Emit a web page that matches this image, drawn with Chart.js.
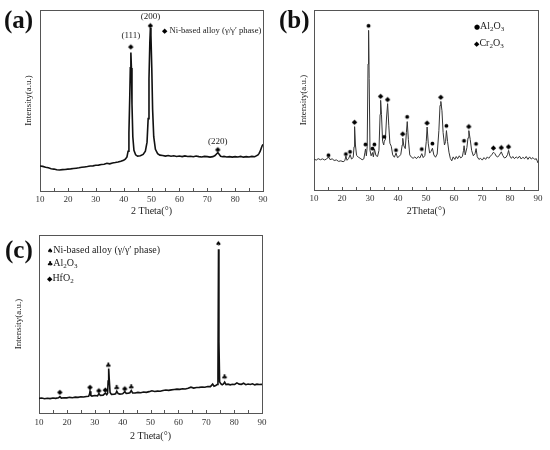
<!DOCTYPE html>
<html><head><meta charset="utf-8">
<script src="https://cdn.jsdelivr.net/npm/chart.js@4.4.1/dist/chart.umd.min.js"></script>
<style>
body{margin:0;background:#fff;width:550px;height:450px;position:relative;overflow:hidden;font-family:"Liberation Serif",serif;}
.panel{position:absolute;}
.panel canvas{display:block;}
.lbl{position:absolute;font-weight:bold;font-size:25px;line-height:28px;color:#111;font-family:"Liberation Serif",serif;}
.leg{position:absolute;font-size:9px;line-height:12px;color:#222;white-space:nowrap;font-family:"Liberation Serif",serif;}
.leg10{font-size:10px;}
.g{font-family:"DejaVu Sans",sans-serif;font-size:7px;color:#000;}
sub{font-size:7px;vertical-align:-2px;line-height:0;}
</style></head>
<body>
<div class="panel" style="left:0;top:0;width:275px;height:220px"><canvas id="ca" width="275" height="220"></canvas></div>
<div class="panel" style="left:275px;top:0;width:275px;height:220px"><canvas id="cb" width="275" height="220"></canvas></div>
<div class="panel" style="left:0;top:225px;width:275px;height:225px"><canvas id="cc" width="275" height="225"></canvas></div>

<div class="lbl" style="left:4px;top:6px">(a)</div>
<div class="lbl" style="left:279px;top:6px">(b)</div>
<div class="lbl" style="left:5px;top:236px">(c)</div>

<div class="leg" style="left:162px;top:24px;font-size:8.6px"><span class="g">◆</span> Ni-based alloy (γ/γ′ phase)</div>
<div class="leg leg10" style="left:474px;top:20px"><span class="g">●</span>Al<sub>2</sub>O<sub>3</sub></div>
<div class="leg leg10" style="left:474px;top:37px"><span class="g">◆</span>Cr<sub>2</sub>O<sub>3</sub></div>
<div class="leg leg10" style="left:47px;top:244px"><span class="g">♠</span>Ni-based alloy (γ/γ′ phase)</div>
<div class="leg leg10" style="left:47px;top:257px"><span class="g">♣</span>Al<sub>2</sub>O<sub>3</sub></div>
<div class="leg leg10" style="left:47px;top:272px"><span class="g">◆</span>HfO<sub>2</sub></div>

<script>
// ---------- data ----------
const xTicks = [10,20,30,40,50,60,70,80,90];
const xMinorTicks = [10,15,20,25,30,35,40,45,50,55,60,65,70,75,80,85,90];

// (a)
const aX = [10,11,12,13,14,15,16,17,18,19,20,21,22,23,24,25,26,27,28,29,30,31,32,33,34,35,36,37,38,39,40,40.6,41.2,41.6,41.9,42.2,42.4,42.6,42.8,43.0,43.3,43.7,44.3,45,46,47,47.8,48.4,48.8,49.1,49.4,49.6,49.8,50.1,50.4,50.8,51.4,52.2,53,54,55,56,57,58,59,60,61,62,63,64,65,66,67,68,69,70,71,72,72.8,73.4,73.8,74.2,74.8,75.5,76,77,78,79,80,81,82,83,84,85,86,87,87.6,88.2,88.6,89,89.4,89.7,90];
const aY = [13.8,13.6,13.1,12.8,12.3,12.1,11.7,11.6,11.8,11.9,12.1,12.2,12.4,12.6,12.8,13.1,13.3,13.5,13.8,13.9,14.2,14.3,14.6,14.8,15.3,15.0,15.5,15.7,16.0,16.4,17.0,17.6,18.8,22,32,52,68,76.5,68,48,30,22.5,20,19.3,19.5,20.2,22,27,40,62,82,90,86,68,45,30,23,20.6,19.8,19.6,19.3,19.6,19.2,19.5,19.1,19.3,19.0,19.4,19.1,19.2,18.9,19.3,19.0,18.8,19.1,19.0,18.7,19.0,19.6,20.6,21.2,20.4,19.2,18.9,19.1,18.8,19.0,18.7,19.0,18.8,19.1,18.7,19.0,18.8,19.1,18.9,19.4,19.9,20.8,22,23.8,25,25.8];
const aPeakX = [42.6,49.6,73.8];
const aPeakY = [80,91.7,23.2];
const aHkl = ['(111)','(200)','(220)'];
const aHklY = [85.6,96.1,27.1];

// (b)
const bX = [10,10.8,11.5,12.3,13,13.8,14.5,15.2,15.7,16.5,17.2,18,18.8,19.6,20.4,21,21.4,21.8,22.4,22.9,23.4,24,24.3,24.5,24.8,25.2,25.8,26.5,27.2,27.8,28.2,28.4,28.7,29.0,29.3,29.5,29.7,30.0,30.4,30.9,31.2,31.6,32.1,32.7,33.2,33.6,33.8,34.1,34.5,34.9,35.1,35.5,35.9,36.3,36.7,37.1,37.6,38.1,38.7,39.3,39.8,40.4,41.0,41.5,41.7,42.1,42.6,43.0,43.3,43.7,44.2,44.8,45.4,46,46.6,47.2,47.8,48.5,49,49.6,50.1,50.4,50.8,51.3,51.8,52.3,52.8,53.4,54.0,54.6,55.0,55.3,55.7,56.1,56.6,57.0,57.3,57.7,58.2,58.7,59.2,59.7,60.3,60.8,61.3,61.9,62.4,63,63.4,63.6,64.0,64.6,65.0,65.3,65.8,66.3,66.9,67.5,67.9,68.3,68.9,69.5,70.1,70.7,71.3,71.9,72.4,73,73.5,74.1,74.6,75.1,75.6,76.2,76.9,77.4,78,78.6,79.1,79.5,79.9,80.5,81,81.6,82.2,82.8,83.4,84,84.6,85.2,85.8,86.4,87,87.6,88.2,88.8,89.4,90];
const bY = [17.2,16.6,17.4,16.8,17.3,16.7,17.2,18.4,16.9,17.3,16.4,16.7,15.9,16.2,15.7,16.3,18.8,16.5,17.6,19.6,17.2,18.0,24,35.2,25,19.2,18.3,17.6,16.8,17.3,21,22.8,19,24,70,88.7,62,22,19,20.8,18.4,22.7,19.2,18.6,22,42,49.8,42,27,25,27.2,28,40,48,36,26,24.3,19.5,18.2,20.5,18,18.6,19.8,25,28.7,24.5,23,32,38,28,19.5,18.2,17.6,18.4,17.4,18.6,17.8,20.2,18,19.2,27,35,26,20.5,21.5,23.2,19.5,18.2,20,33,47,49.2,44,32,25,27,33,27,21,17.5,16.2,18.4,17,18.6,17.4,19,17.8,18.6,22,24.6,19.5,23.5,29,33,28,22,19,20.2,23,18.5,17,17.6,16.6,18,17,18.4,17.6,18.8,19.6,21,20.2,18.8,18.3,19.4,21.2,19.2,17.8,18.2,19.6,22,19,17.6,18.6,17.4,18.4,17.6,18.8,17.2,18.2,17.4,18.6,17,18.4,17.2,18,17,17.4,15];
const bAlX = [15.2,21.4,22.9,28.4,29.5,30.9,31.6,35.1,39.3,43.3,48.5,52.3,57.3,63.6,67.9];
const bAlY = [19.4,20,21.3,25.4,91.3,23.1,25.4,29.6,22.2,40.7,22.8,25.9,35.7,27.4,25.7];
const bCrX = [24.5,33.8,36.3,41.7,50.4,55.3,65.3,74.1,76.9,79.5];
const bCrY = [38,52.4,50.6,31.5,37.6,51.9,35.6,23.7,23.9,24.4];

// (c)
const cX = [10,11,12,13,14,15,16,17,17.5,18,19,20,21,22,23,24,25,26,27,27.8,28.1,28.3,28.6,29,30,31,31.5,32,33,33.8,34.3,34.6,34.8,35.0,35.2,35.5,36,37,37.5,37.9,38.4,39,40,40.8,41.3,42,42.6,43.1,43.6,44.5,45.5,46.5,47.5,48.5,49.5,50.5,51.5,52.5,53.5,54.5,55.5,56.5,57.5,58.5,59.5,60.5,61.5,62.5,63.5,64.5,65.5,66.5,67.5,68.5,69.5,70.5,71.5,72.3,72.8,73.4,73.9,74.2,74.4,74.55,74.8,75.2,75.7,76.2,76.6,77.1,77.8,78.6,79.4,80.2,81,81.8,82.6,83.4,84.2,85,85.8,86.6,87.4,88.2,89,90];
const cY = [8.2,8.4,8.0,8.3,8.1,8.4,8.2,8.5,9.2,8.4,8.6,8.5,8.8,8.6,8.9,8.8,9.1,9.0,9.3,9.4,10.5,12.2,9.8,9.5,9.8,9.6,10.9,9.9,10.0,11.2,10.3,11,18,25.0,19,11.5,10.4,10.6,10.8,12.2,10.9,10.6,10.8,12.0,11.0,11.1,11.4,12.6,11.3,11.2,11.6,11.4,11.8,11.6,12.0,12.5,12.1,12.3,12.2,12.6,12.9,12.7,13.0,13.2,13.4,13.3,13.6,13.5,13.9,14.5,14.0,14.3,14.4,14.6,14.5,14.9,14.8,16.2,15.0,15.4,16.0,22,92,40,17.5,16.5,15.9,16.4,17.4,16.0,16.2,15.8,16.1,16.0,16.9,16.2,16.1,16.7,15.9,16.3,16.0,16.4,15.8,16.2,16.0,16.1];
const cNiX = [74.4];
const cNiY = [95.3];
const cAlX = [34.9,37.9,43.1,76.6];
const cAlY = [27,14.4,14.8,20.4];
const cHfX = [17.5,28.3,31.5,33.8,40.8];
const cHfY = [12,14.8,12.9,13.3,14];

// ---------- helpers ----------
const SERIF = '"Liberation Serif", serif';
function pts(xs, ys){ return xs.map((x,i)=>({x:x, y:ys[i]})); }
function glyph(ch, size){
  const c = document.createElement('canvas');
  c.width = size + 4; c.height = size + 4;
  const g = c.getContext('2d');
  g.font = size + 'px "DejaVu Sans"';
  g.textAlign = 'center'; g.textBaseline = 'middle';
  g.fillStyle = '#000';
  g.fillText(ch, c.width/2, c.height/2 + 0.5);
  return c;
}
const gDiamond = glyph('◆', 7);
const gDot = glyph('●', 5);
const gSpade = glyph('♠', 7);
const gClub = glyph('♣', 7);

const framePlugin = {
  id: 'frame',
  beforeDatasetsDraw(chart){
    const {ctx, chartArea:a, scales} = chart;
    ctx.save();
    ctx.strokeStyle = '#555';
    ctx.lineWidth = 1;
    ctx.strokeRect(Math.round(a.left)+0.5, Math.round(a.top)+0.5, Math.round(a.right-a.left), Math.round(a.bottom-a.top));
    ctx.beginPath();
    xMinorTicks.forEach(v=>{
      const px = Math.round(scales.x.getPixelForValue(v)) + 0.5;
      ctx.moveTo(px, a.bottom);
      ctx.lineTo(px, a.bottom - 3);
    });
    ctx.stroke();
    ctx.restore();
  }
};

const hklPlugin = {
  id: 'hkl',
  afterDatasetsDraw(chart){
    if (chart.canvas.id !== 'ca') return;
    const {ctx, scales} = chart;
    ctx.save();
    ctx.font = '9px ' + SERIF;
    ctx.fillStyle = '#222';
    ctx.textAlign = 'center';
    ctx.textBaseline = 'middle';
    aHkl.forEach((t,i)=>{
      ctx.fillText(t, scales.x.getPixelForValue(aPeakX[i]), scales.y.getPixelForValue(aHklY[i]));
    });
    ctx.restore();
  }
};

function makeChart(id, cfg){
  const datasets = [{
    type:'line', data: pts(cfg.xs, cfg.ys),
    borderColor: cfg.lineColor, borderWidth: cfg.lineWidth,
    pointRadius: 0, tension: 0, fill:false, order: 2
  }];
  cfg.markers.forEach(m=>{
    datasets.push({type:'scatter', data: pts(m.xs, m.ys), pointStyle: m.style, pointRadius: 3, showLine:false, order:1});
  });
  return new Chart(document.getElementById(id), {
    type: 'line',
    data: { datasets },
    options: {
      responsive:false, animation:false, devicePixelRatio:1,
      layout: { padding: { left:0, top: cfg.top, right: cfg.right, bottom:0 } },
      plugins: { legend:{display:false}, tooltip:{enabled:false} },
      scales: {
        x: {
          type:'linear', min:10, max:90,
          afterBuildTicks: s => { s.ticks = xTicks.map(v=>({value:v})); },
          ticks: { font:{family:SERIF, size:9}, color:'#333', padding: cfg.tickPad, maxRotation:0, autoSkip:false },
          grid: { display:false, drawTicks:false },
          border: { display:false },
          title: { display:true, text: cfg.xTitle, font:{family:SERIF, size:10}, color:'#222', padding:{top:0, bottom: cfg.xTitlePad} },
          afterFit: s => { s.height = cfg.xH; }
        },
        y: {
          min:0, max:100,
          ticks: { display:false },
          grid: { display:false, drawTicks:false },
          border: { display:false },
          title: { display:true, text:'Intensity(a.u.)', font:{family:SERIF, size:9}, color:'#222', padding:{top: cfg.yTitlePad, bottom:0} },
          afterFit: s => { s.width = cfg.yW; }
        }
      }
    },
    plugins: [framePlugin, hklPlugin]
  });
}

makeChart('ca', { xs:aX, ys:aY, lineColor:'#111', lineWidth:1.6, top:10, right:12, xH:29, yW:40, tickPad:3, xTitle:'2 Theta(°)', xTitlePad:3, yTitlePad:23,
  markers:[{xs:aPeakX, ys:aPeakY, style:gDiamond}] });
makeChart('cb', { xs:bX, ys:bY, lineColor:'#333', lineWidth:1, top:10, right:12, xH:30, yW:39, tickPad:3, xTitle:'2Theta(°)', xTitlePad:3, yTitlePad:23,
  markers:[{xs:bAlX, ys:bAlY, style:gDot},{xs:bCrX, ys:bCrY, style:gDiamond}] });
makeChart('cc', { xs:cX, ys:cY, lineColor:'#111', lineWidth:1.6, top:10, right:13, xH:37, yW:39, tickPad:4, xTitle:'2 Theta(°)', xTitlePad:8, yTitlePad:13,
  markers:[{xs:cNiX, ys:cNiY, style:gSpade},{xs:cAlX, ys:cAlY, style:gClub},{xs:cHfX, ys:cHfY, style:gDiamond}] });
</script>
</body></html>
